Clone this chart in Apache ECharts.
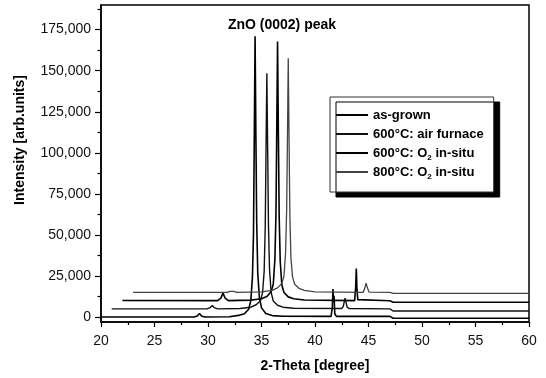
<!DOCTYPE html>
<html>
<head>
<meta charset="utf-8">
<script src="https://cdn.jsdelivr.net/npm/echarts@6/dist/echarts.min.js"></script>
<style>
  html, body { margin: 0; padding: 0; background: #fff; }
  #xrd { width: 546px; height: 378px; }
</style>
</head>
<body>
<div id="xrd"></div>
<script>
// 图例名称
var seriesNames = ['as-grown', '600°C: air furnace', '600°C: O2 in-situ', '800°C: O2 in-situ'];

// 各曲线 [2θ, 强度]（按图中读出，含瀑布偏移）
var asGrown = [
  [20, 0], [28.7, 0], [29.0, 700], [29.2, 2200], [29.4, 700], [29.7, 0], [32.0, 200],
  [33.0, 1200], [33.4, 2000], [33.8, 4800], [34.0, 10000], [34.15, 24000], [34.25, 50000],
  [34.32, 105000], [34.4, 171000], [34.48, 108000], [34.55, 58000], [34.65, 27000],
  [34.8, 12000], [35.0, 5600], [35.4, 2200], [36.0, 900], [37.0, 500], [41.5, 450],
  [41.62, 6000], [41.68, 17000], [41.74, 9000], [41.78, 13000], [41.85, 2000], [42.0, 450],
  [47.0, 400], [47.3, -700], [60, -700]
];
var airFurnace600 = [
  [21, 5000], [29.9, 5000], [30.2, 5700], [30.4, 7100], [30.6, 5700], [30.9, 5000],
  [33.0, 5200], [34.0, 6000], [34.5, 7500], [34.9, 10000], [35.1, 14800], [35.25, 28000],
  [35.35, 55000], [35.42, 100000], [35.5, 148500], [35.58, 100000], [35.65, 56000],
  [35.75, 29000], [35.9, 15000], [36.1, 9800], [36.5, 7200], [37.0, 6000], [38.0, 5400],
  [42.5, 5200], [42.65, 6500], [42.75, 10000], [42.82, 11500], [42.9, 9000], [43.0, 6000],
  [43.2, 5200], [47.0, 5000], [47.3, 3700], [60, 3700]
];
var o2InSitu600 = [
  [22, 10100], [30.9, 10000], [31.2, 11500], [31.4, 14600], [31.6, 11500], [31.9, 10000],
  [34.0, 10300], [35.0, 11200], [35.5, 12500], [35.9, 15500], [36.1, 20000], [36.25, 35000],
  [36.35, 62000], [36.42, 110000], [36.5, 167700], [36.58, 110000], [36.65, 62000],
  [36.75, 34000], [36.9, 19500], [37.1, 15000], [37.5, 12300], [38.0, 11200], [39.0, 10400],
  [43.7, 10000], [43.8, 18000], [43.86, 29600], [43.92, 17000], [44.0, 10600],
  [47.0, 9900], [47.3, 9000], [60, 9000]
];
var o2InSitu800 = [
  [23, 15000], [31.8, 15000], [32.05, 15700], [32.2, 16200], [32.4, 15600], [32.7, 15000],
  [35.0, 15300], [36.0, 16300], [36.5, 17800], [36.9, 20500], [37.1, 25000], [37.25, 39000],
  [37.35, 65000], [37.42, 105000], [37.5, 157600], [37.58, 105000], [37.65, 62000],
  [37.75, 36000], [37.9, 24500], [38.1, 20000], [38.5, 17500], [39.0, 16200], [40.0, 15400],
  [44.5, 15000], [44.65, 17500], [44.77, 20700], [44.9, 17800], [45.05, 15200],
  [47.0, 15000], [47.3, 14400], [60, 14400]
];
var curves = [asGrown, airFurnace600, o2InSitu600, o2InSitu800];

// 刻度
var yMajorTicks = [0, 25000, 50000, 75000, 100000, 125000, 150000, 175000];
var yMinorTicks = [12500, 37500, 62500, 87500, 112500, 137500, 162500, 187500];

var FONT = '"Liberation Sans", Arial, sans-serif';
var lineColors = ['#000', '#111', '#000', '#444'];
var lineWidths = [1.6, 1.4, 1.6, 1.3];

var option = {
  animation: false,
  backgroundColor: '#fff',
  textStyle: { fontFamily: FONT },
  grid: {
    left: 101, right: 17, top: 5, bottom: 55,
    show: true, borderColor: '#000', borderWidth: 1.5, backgroundColor: 'transparent'
  },
  legend: {
    orient: 'vertical',
    left: 330,
    top: 97,
    data: seriesNames,
    selectedMode: false,
    icon: 'rect',
    itemWidth: 32,
    itemHeight: 2,
    itemGap: 1,
    padding: [9, 10, 11, 6],
    backgroundColor: '#fff',
    borderColor: '#333',
    borderWidth: 1,
    shadowColor: '#000',
    shadowBlur: 0,
    shadowOffsetX: 6,
    shadowOffsetY: 5,
    formatter: function (name) {
      return name.replace('O2', 'O{s|2}');
    },
    textStyle: {
      fontFamily: FONT, fontSize: 13, fontWeight: 'bold', color: '#000', lineHeight: 18,
      rich: {
        s: { fontFamily: FONT, fontSize: 8, fontWeight: 'bold', color: '#000', lineHeight: 18, verticalAlign: 'bottom' }
      }
    }
  },
  xAxis: {
    type: 'value',
    min: 20, max: 60, interval: 5,
    name: '2-Theta [degree]',
    nameLocation: 'middle',
    nameGap: 37,
    nameTextStyle: { fontFamily: FONT, fontSize: 14, fontWeight: 'bold', color: '#000' },
    axisLine: { onZero: false, lineStyle: { color: '#000', width: 1.5 } },
    axisTick: { length: 5, lineStyle: { color: '#000', width: 1.2 } },
    minorTick: { show: true, splitNumber: 2, length: 3, lineStyle: { color: '#000', width: 1.2 } },
    axisLabel: { fontFamily: FONT, fontSize: 14, color: '#111', margin: 12 },
    splitLine: { show: false }
  },
  yAxis: [
    {
      type: 'value',
      min: -3000, max: 190000,
      axisLine: { show: true, onZero: false, lineStyle: { color: '#000', width: 1.5 } },
      axisTick: { show: true, customValues: yMajorTicks, length: 6, lineStyle: { color: '#000', width: 1.2 } },
      axisLabel: {
        customValues: yMajorTicks,
        fontFamily: FONT, fontSize: 14, color: '#111', margin: 10,
        formatter: function (v) { return v.toLocaleString('en-US'); }
      },
      splitLine: { show: false }
    },
    {
      type: 'value',
      position: 'left',
      min: -3000, max: 190000,
      axisLine: { show: false },
      axisTick: { show: true, customValues: yMinorTicks, length: 3.5, lineStyle: { color: '#000', width: 1.2 } },
      axisLabel: { show: false },
      splitLine: { show: false }
    }
  ],
  graphic: [
    {
      type: 'text',
      x: 20, y: 140,
      rotation: Math.PI / 2,
      style: {
        text: 'Intensity [arb.units]',
        font: 'bold 14px ' + FONT,
        fill: '#000', align: 'center', verticalAlign: 'middle'
      }
    },
    {
      type: 'text',
      x: 282, y: 25,
      style: {
        text: 'ZnO (0002) peak',
        font: 'bold 14px ' + FONT,
        fill: '#000', align: 'center', verticalAlign: 'middle'
      }
    }
  ],
  series: []
};

function init() {
  curves.forEach(function (data, i) {
    option.series.push({
      name: seriesNames[i],
      type: 'line',
      data: data,
      symbol: 'none',
      showSymbol: false,
      smooth: false,
      xAxisIndex: 0,
      yAxisIndex: 0,
      lineStyle: { color: lineColors[i], width: lineWidths[i] },
      itemStyle: { color: lineColors[i] }
    });
  });
  var chart = echarts.init(document.getElementById('xrd'), null, { renderer: 'canvas' });
  chart.setOption(option);
  window.addEventListener('resize', chart.resize);
}

init();
</script>
</body>
</html>
